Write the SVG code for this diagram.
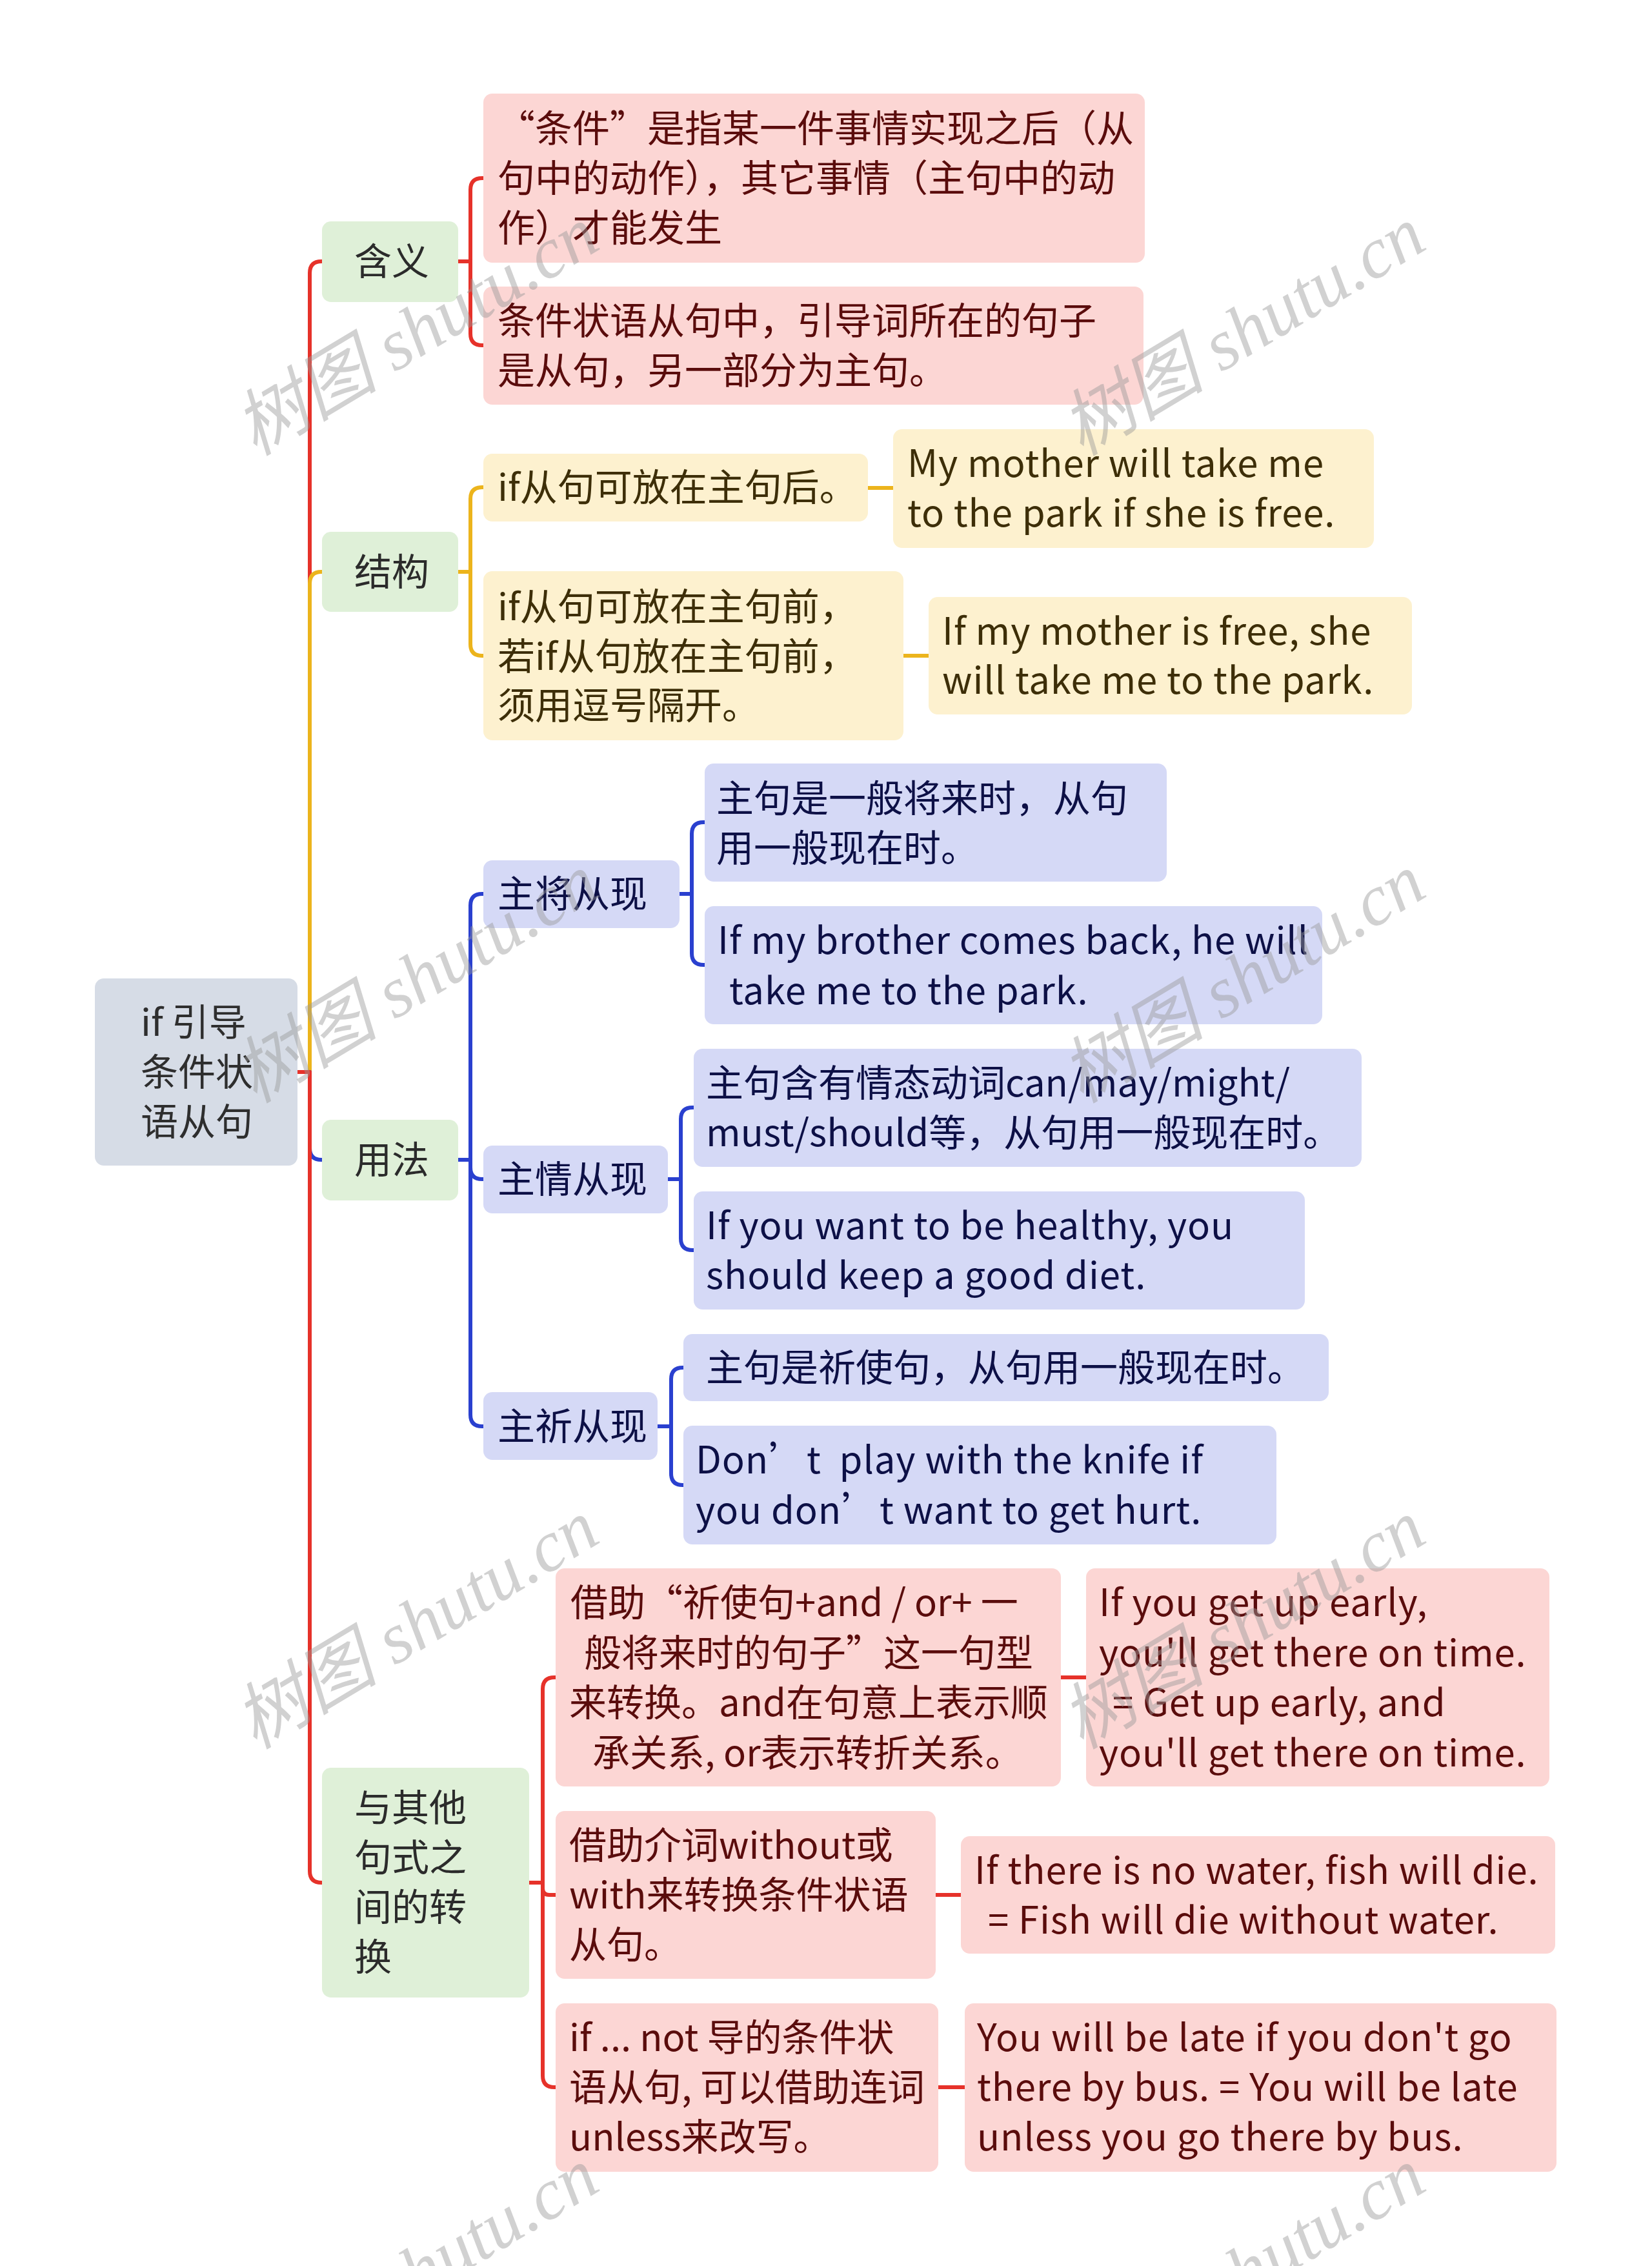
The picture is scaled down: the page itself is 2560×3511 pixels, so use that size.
<svg xmlns="http://www.w3.org/2000/svg" width="2560" height="3511" viewBox="0 0 2560 3511">
<style>
text{font-family:"Noto Sans CJK SC","Noto Sans",sans-serif;font-size:58px;dominant-baseline:central}
.root text,.l1 text,.pk text,.yw text,.bl text{transform:translateY(-4px)}
.en{letter-spacing:0.9px}
.root rect{fill:#d6dce6}
.root text{fill:#2e2e2e}
.l1 rect{fill:#dff0d8}
.l1 text{fill:#2b2b2b}
.pk rect{fill:#fcd6d4}
.pk text{fill:#5a0c0c}
.yw rect{fill:#fdf1cf}
.yw text{fill:#3d2e08}
.bl rect{fill:#d5d9f6}
.bl text{fill:#0d1046}
.c{fill:none;stroke-width:6;stroke-linejoin:round}
.red{stroke:#e6322a}
.yel{stroke:#ecb41c}
.blu{stroke:#2a40cf}
.wm text{font-family:"Liberation Serif","Noto Sans CJK SC",serif;font-style:italic;font-size:112px;fill:#9a9a9a;opacity:0.45;text-anchor:middle}
</style>
<g id="connectors">
<path class="c red" d="M461 1661 H480 V423 Q480 405 498 405 H499"/>
<path class="c yel" d="M461 1661 H480 V904 Q480 886 498 886 H499"/>
<path class="c blu" d="M461 1661 H480 V1779 Q480 1797 498 1797 H499"/>
<path class="c red" d="M461 1661 H480 V2899 Q480 2917 498 2917 H499"/>
<path class="c red" d="M710 405 H729 V294 Q729 276 747 276 H749"/>
<path class="c red" d="M710 405 H729 V517 Q729 535 747 535 H749"/>
<path class="c yel" d="M710 886 H729 V773 Q729 755 747 755 H749"/>
<path class="c yel" d="M710 886 H729 V998 Q729 1016 747 1016 H749"/>
<path class="c yel" d="M1345 756 H1384"/>
<path class="c yel" d="M1400 1016 H1439"/>
<path class="c blu" d="M710 1797 H729 V1403 Q729 1385 747 1385 H749"/>
<path class="c blu" d="M710 1797 H729 V1809 Q729 1827 747 1827 H749"/>
<path class="c blu" d="M710 1797 H729 V2192 Q729 2210 747 2210 H749"/>
<path class="c blu" d="M1053 1385 H1072 V1292 Q1072 1274 1090 1274 H1092"/>
<path class="c blu" d="M1053 1385 H1072 V1477 Q1072 1495 1090 1495 H1092"/>
<path class="c blu" d="M1035 1827 H1055 V1734 Q1055 1716 1073 1716 H1075"/>
<path class="c blu" d="M1035 1827 H1055 V1919 Q1055 1937 1073 1937 H1075"/>
<path class="c blu" d="M1019 2210 H1040 V2137 Q1040 2119 1058 2119 H1059"/>
<path class="c blu" d="M1019 2210 H1040 V2283 Q1040 2301 1058 2301 H1059"/>
<path class="c red" d="M820 2917 H841 V2617 Q841 2599 859 2599 H861"/>
<path class="c red" d="M820 2917 H841 V2926 Q841 2936 851 2936 H861"/>
<path class="c red" d="M820 2917 H841 V3216 Q841 3234 859 3234 H861"/>
<path class="c red" d="M1644 2599 H1683"/>
<path class="c red" d="M1450 2936 H1489"/>
<path class="c red" d="M1454 3234 H1495"/>
</g>
<g id="root" class="root"><rect x="147" y="1516" width="314" height="290" rx="14"/>
<text x="218" y="1584">if 引导</text><text x="218" y="1661">条件状</text><text x="218" y="1738">语从句</text></g>
<g id="n-hanyi" class="l1"><rect x="499" y="343" width="211" height="125" rx="14"/><text x="549" y="405">含义</text></g>
<g id="n-jiegou" class="l1"><rect x="499" y="824" width="211" height="124" rx="14"/><text x="549" y="886">结构</text></g>
<g id="n-yongfa" class="l1"><rect x="499" y="1735" width="211" height="125" rx="14"/><text x="549" y="1797">用法</text></g>
<g id="n-zhuanhuan" class="l1"><rect x="499" y="2739" width="321" height="356" rx="14"/>
<text x="549" y="2801">与其他</text><text x="549" y="2878">句式之</text><text x="549" y="2955">间的转</text><text x="549" y="3032">换</text></g>
<g id="a1" class="pk"><rect x="749" y="145" width="1025" height="262" rx="14"/>
<text x="771" y="199">“条件”是指某一件事情实现之后（从</text><text x="771" y="276">句中的动作），其它事情（主句中的动</text><text x="771" y="353">作）才能发生</text></g>
<g id="a2" class="pk"><rect x="749" y="444" width="1023" height="183" rx="14"/>
<text x="771" y="497">条件状语从句中，引导词所在的句子</text><text x="771" y="574">是从句，另一部分为主句。</text></g>
<g id="b1" class="yw"><rect x="749" y="703" width="596" height="105" rx="14"/><text x="771" y="755">if从句可放在主句后。</text></g>
<g id="b1c" class="yw"><rect x="1384" y="665" width="745" height="184" rx="14"/>
<text class="en" x="1406" y="718">My mother will take me</text><text class="en" x="1406" y="795">to the park if she is free.</text></g>
<g id="b2" class="yw"><rect x="749" y="885" width="651" height="262" rx="14"/>
<text x="771" y="940">if从句可放在主句前，</text><text x="771" y="1017">若if从句放在主句前，</text><text x="771" y="1093">须用逗号隔开。</text></g>
<g id="b2c" class="yw"><rect x="1439" y="925" width="749" height="182" rx="14"/>
<text class="en" x="1460" y="978">If my mother is free, she</text><text class="en" x="1460" y="1054">will take me to the park.</text></g>
<g id="c0" class="bl"><rect x="749" y="1333" width="304" height="105" rx="14"/><text x="771" y="1385">主将从现</text></g>
<g id="d0" class="bl"><rect x="749" y="1775" width="286" height="105" rx="14"/><text x="771" y="1827">主情从现</text></g>
<g id="e0" class="bl"><rect x="749" y="2157" width="270" height="105" rx="14"/><text x="771" y="2210">主祈从现</text></g>
<g id="c1" class="bl"><rect x="1092" y="1183" width="716" height="183" rx="14"/>
<text x="1110" y="1237">主句是一般将来时，从句</text><text x="1110" y="1314">用一般现在时。</text></g>
<g id="c2" class="bl"><rect x="1092" y="1404" width="957" height="183" rx="14"/>
<text class="en" x="1112" y="1457">If my brother comes back, he will</text><text class="en" x="1130" y="1535">take me to the park.</text></g>
<g id="d1" class="bl"><rect x="1075" y="1625" width="1035" height="183" rx="14"/>
<text x="1094" y="1678">主句含有情态动词can/may/might/</text><text x="1094" y="1755">must/should等，从句用一般现在时。</text></g>
<g id="d2" class="bl"><rect x="1075" y="1846" width="947" height="183" rx="14"/>
<text class="en" x="1094" y="1899">If you want to be healthy, you</text><text class="en" x="1094" y="1976">should keep a good diet.</text></g>
<g id="e1" class="bl"><rect x="1059" y="2067" width="1000" height="104" rx="14"/><text x="1094" y="2119">主句是祈使句，从句用一般现在时。</text></g>
<g id="e2" class="bl"><rect x="1059" y="2209" width="919" height="184" rx="14"/>
<text class="en" x="1078" y="2262">Don’t&#160;&#160;play with the knife if</text><text class="en" x="1078" y="2340">you don’t want to get hurt.</text></g>
<g id="f1" class="pk"><rect x="861" y="2430" width="783" height="338" rx="14"/>
<text x="884" y="2483">借助“祈使句+and / or+ 一</text><text x="905" y="2561">般将来时的句子”这一句型</text><text x="882" y="2638">来转换。and在句意上表示顺</text><text x="918" y="2716">承关系, or表示转折关系。</text></g>
<g id="g1" class="pk"><rect x="1683" y="2430" width="718" height="338" rx="14"/>
<text class="en" x="1703" y="2483">If you get up early,</text><text class="en" x="1703" y="2561">you'll get there on time.</text><text class="en" x="1724" y="2638">= Get up early, and</text><text class="en" x="1703" y="2716">you'll get there on time.</text></g>
<g id="f2" class="pk"><rect x="861" y="2806" width="589" height="260" rx="14"/>
<text x="882" y="2859">借助介词without或</text><text x="882" y="2936">with来转换条件状语</text><text x="882" y="3013">从句。</text></g>
<g id="g2" class="pk"><rect x="1489" y="2845" width="921" height="182" rx="14"/>
<text class="en" x="1510" y="2898">If there is no water, fish will die.</text><text class="en" x="1531" y="2975">= Fish will die without water.</text></g>
<g id="f3" class="pk"><rect x="861" y="3104" width="593" height="261" rx="14"/>
<text x="882" y="3157">if ... not 导的条件状</text><text x="882" y="3234">语从句, 可以借助连词</text><text x="882" y="3311">unless来改写。</text></g>
<g id="g3" class="pk"><rect x="1495" y="3104" width="917" height="261" rx="14"/>
<text class="en" x="1514" y="3157">You will be late if you don't go</text><text class="en" x="1514" y="3234">there by bus. = You will be late</text><text class="en" x="1514" y="3311">unless you go there by bus.</text></g>
<g class="wm">
<text x="645" y="513" transform="rotate(-31 645 513)">树图 shutu.cn</text>
<text x="1926" y="513" transform="rotate(-31 1926 513)">树图 shutu.cn</text>
<text x="645" y="1516" transform="rotate(-31 645 1516)">树图 shutu.cn</text>
<text x="1926" y="1516" transform="rotate(-31 1926 1516)">树图 shutu.cn</text>
<text x="645" y="2517" transform="rotate(-31 645 2517)">树图 shutu.cn</text>
<text x="1926" y="2517" transform="rotate(-31 1926 2517)">树图 shutu.cn</text>
<text x="645" y="3521" transform="rotate(-31 645 3521)">树图 shutu.cn</text>
<text x="1926" y="3521" transform="rotate(-31 1926 3521)">树图 shutu.cn</text>
</g>
</svg>
